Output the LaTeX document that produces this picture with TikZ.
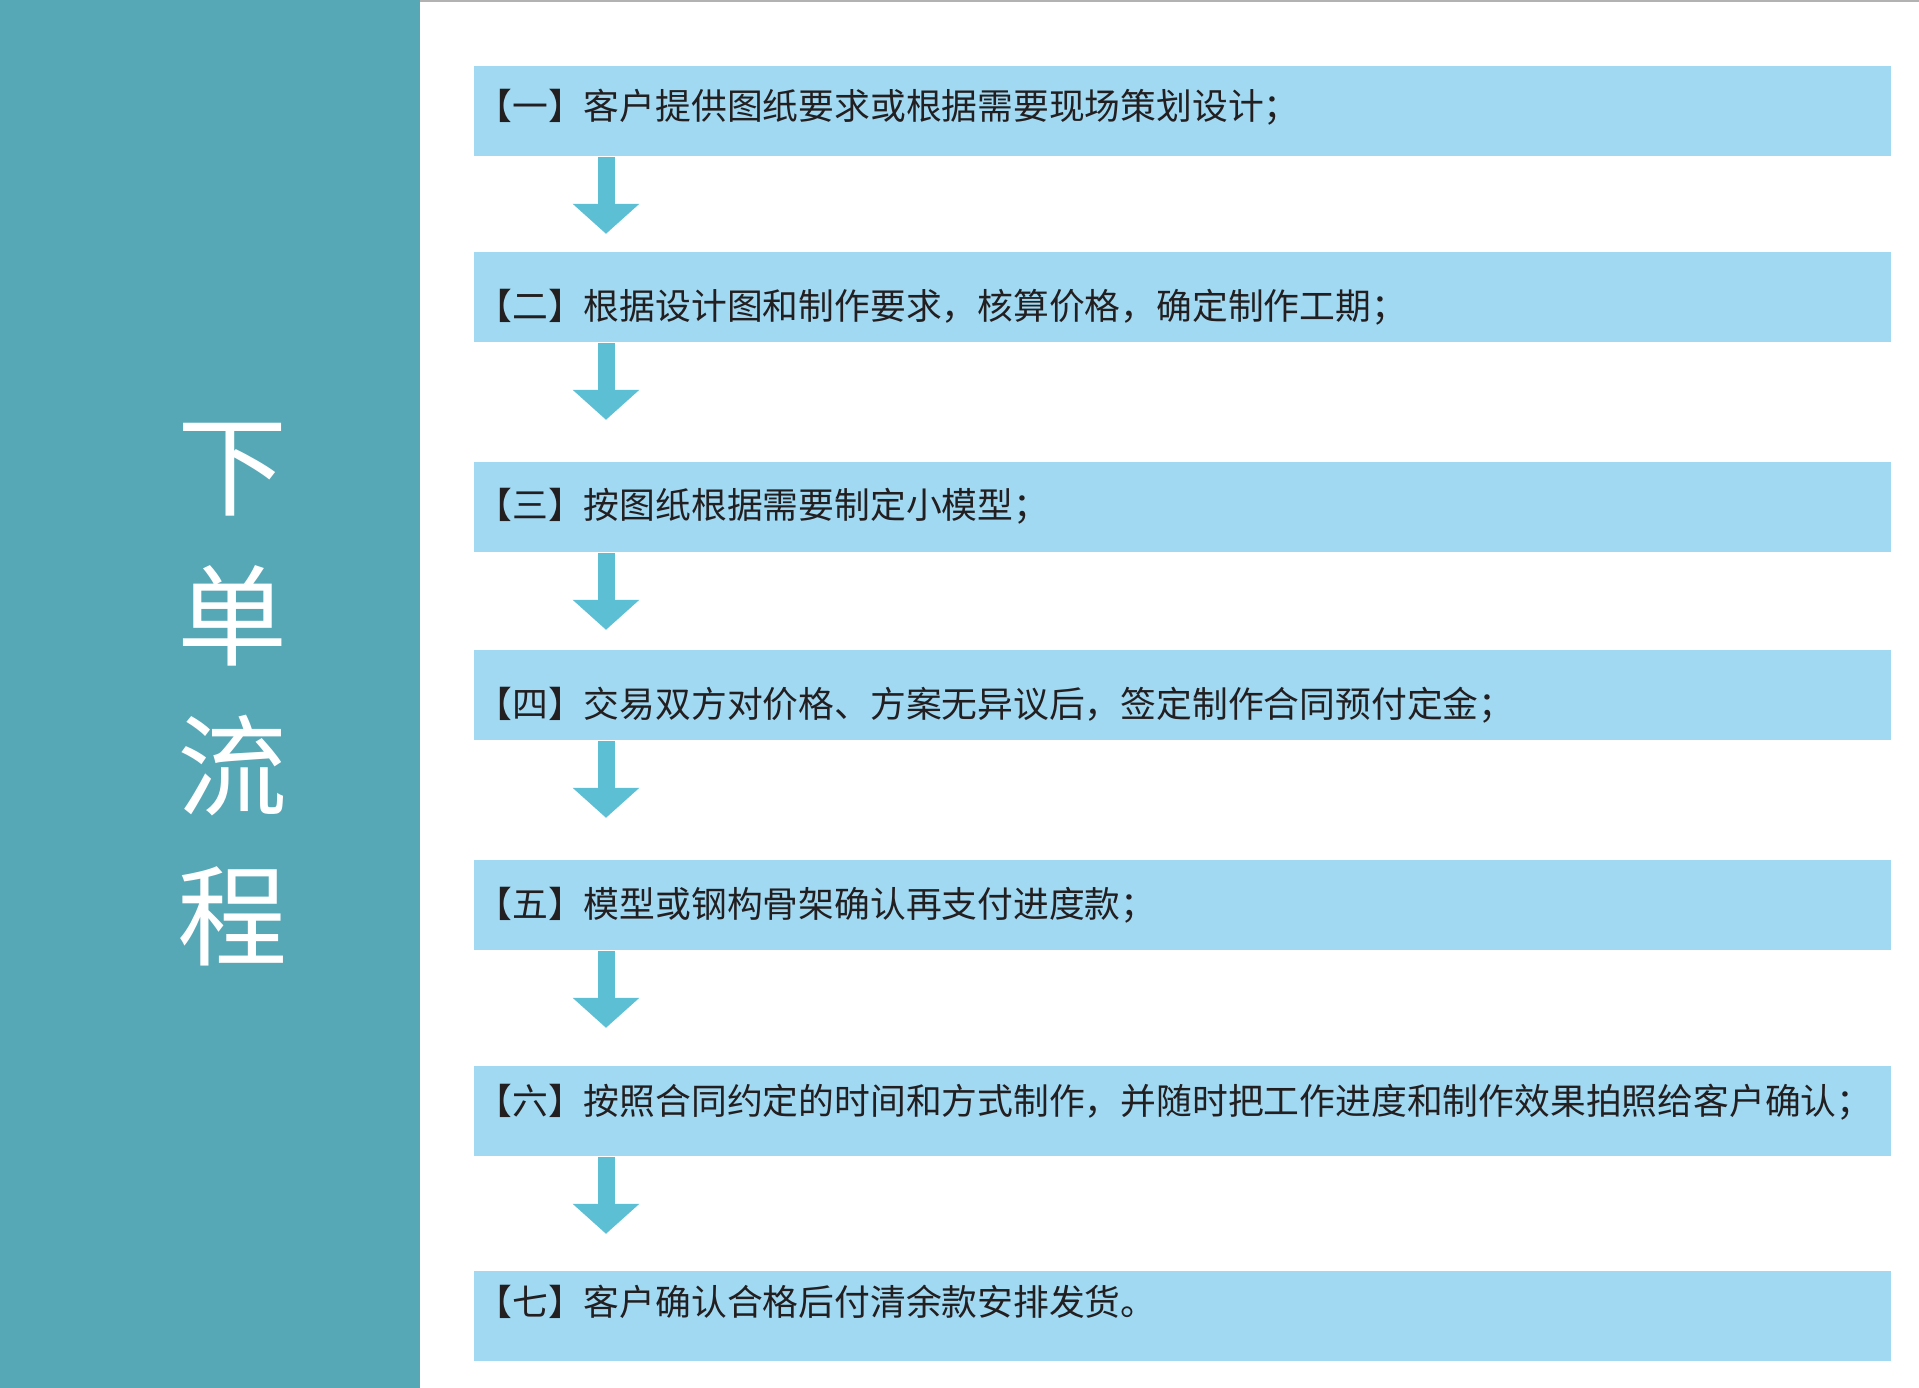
\documentclass[tikz,border=0pt]{standalone}
\usepackage{fontspec}
\newfontfamily\cjk{Noto Sans CJK SC}
\usetikzlibrary{arrows.meta}
\definecolor{panelteal}{HTML}{57A8B6}
\definecolor{stepblue}{HTML}{A1D9F3}
\definecolor{arrowcyan}{HTML}{5CBFD3}
\definecolor{inkgray}{HTML}{231F20}

\begin{document}
\begin{tikzpicture}[
    x=0.5pt, y=-0.5pt,
    font=\cjk\fontsize{17.9}{21}\selectfont,
    stepbox/.style={fill=stepblue, rectangle, inner sep=0pt, minimum width=708.5pt, minimum height=45pt, anchor=north west},
    steptext/.style={text=inkgray, inner sep=0pt, anchor=base west},
    flow/.style={-{Triangle[width=32.5pt,length=15pt]}, line width=8.5pt, arrowcyan}
]
\useasboundingbox (0,0) rectangle (1919,1388);
\fill[white] (0,0) rectangle (1919,1388);

% Side panel
\fill[panelteal] (0,0) rectangle (420,1388);
\draw[black!30, line width=1.2pt] (420,1) -- (1919,1);
\node[white, font=\cjk\fontsize{55}{75}\selectfont, align=center] (title) at (232,695) {下\\单\\流\\程};

% Boxes
\node[stepbox] (s1) at (474,66) {};
\node[stepbox] (s2) at (474,252) {};
\node[stepbox] (s3) at (474,462) {};
\node[stepbox] (s4) at (474,650) {};
\node[stepbox] (s5) at (474,860) {};
\node[stepbox] (s6) at (474,1066) {};
\node[stepbox] (s7) at (474,1271) {};

% Texts
\node[steptext] (t1) at (476,119) {【一】客户提供图纸要求或根据需要现场策划设计；};
\node[steptext] (t2) at (476,319) {【二】根据设计图和制作要求，核算价格，确定制作工期；};
\node[steptext] (t3) at (476,518) {【三】按图纸根据需要制定小模型；};
\node[steptext] (t4) at (476,717) {【四】交易双方对价格、方案无异议后，签定制作合同预付定金；};
\node[steptext] (t5) at (476,917) {【五】模型或钢构骨架确认再支付进度款；};
\node[steptext] (t6) at (476,1114) {【六】按照合同约定的时间和方式制作，并随时把工作进度和制作效果拍照给客户确认；};
\node[steptext] (t7) at (476,1315) {【七】客户确认合格后付清余款安排发货。};

% Arrows
\coordinate (ax) at (606,0);
\foreach \i in {1,...,6}
    \draw[flow] (s\i.south -| ax) -- ++(0,77);

\end{tikzpicture}
\end{document}
